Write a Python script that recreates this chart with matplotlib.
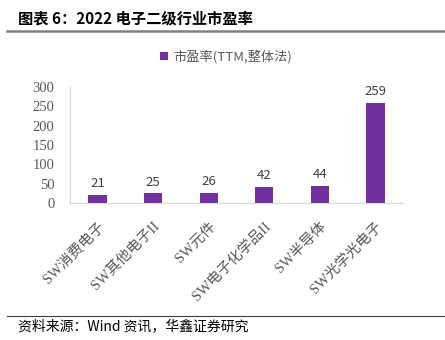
import numpy as np
import matplotlib.pyplot as plt
from matplotlib.lines import Line2D

plt.rcParams['font.family'] = ['Noto Sans CJK SC', 'DejaVu Sans']
plt.rcParams['axes.unicode_minus'] = False

# 数据
categories = ['SW消费电子', 'SW其他电子II', 'SW元件', 'SW电子化学品II', 'SW半导体', 'SW光学光电子']
pe_values = [21, 25, 26, 42, 44, 259]
y_ticks = [0, 50, 100, 150, 200, 250, 300]

bar_color = '#7030A0'
serif = ['Liberation Serif', 'Noto Sans CJK SC']

fig = plt.figure(figsize=(4.45, 3.4), dpi=100)
ax = fig.add_axes([0.157, 0.403, 0.749, 0.341])

x = np.arange(len(categories))
bars = ax.bar(x, pe_values, width=0.33, color=bar_color, label='市盈率(TTM,整体法)')
for xi, v in zip(x, pe_values):
    ax.text(xi, v + 12, str(v), ha='center', va='bottom', fontsize=9.5, color='#404040')

ax.set_xlim(-0.5, len(categories) - 0.5)
ax.set_ylim(0, 300)
ax.set_yticks(y_ticks)
ax.set_yticklabels([str(t) for t in y_ticks])
ax.set_xticks(x)
ax.set_xticklabels(categories, rotation=45, ha='right', rotation_mode='anchor')
for lab in ax.get_xticklabels() + ax.get_yticklabels():
    lab.set_fontfamily(serif)
    lab.set_fontsize(10.5)
    lab.set_color('#595959')
ax.tick_params(axis='y', length=0, pad=11)
ax.tick_params(axis='x', length=0, pad=12)
for s in ['top', 'right']:
    ax.spines[s].set_visible(False)
ax.spines['left'].set_color('#d9d9d9')
ax.spines['bottom'].set_color('#d9d9d9')

ax.legend(loc='lower center', bbox_to_anchor=(0.47, 1.1), frameon=False, fontsize=9.5,
          handlelength=0.6, handleheight=0.6, handletextpad=0.4, labelcolor='#595959')

# 标题与来源
fig.text(0.04, 0.93, '图表 6：2022 电子二级行业市盈率', fontsize=11, fontweight='bold', color='black')
fig.add_artist(Line2D([0.015, 1.0], [0.908, 0.908], color='#808080', lw=1.8))
fig.add_artist(Line2D([0.015, 1.0], [0.072, 0.072], color='#404040', lw=0.8))
fig.text(0.04, 0.03, '资料来源：Wind 资讯，华鑫证券研究', fontsize=10, color='black')

fig.savefig('out.png', dpi=100)
